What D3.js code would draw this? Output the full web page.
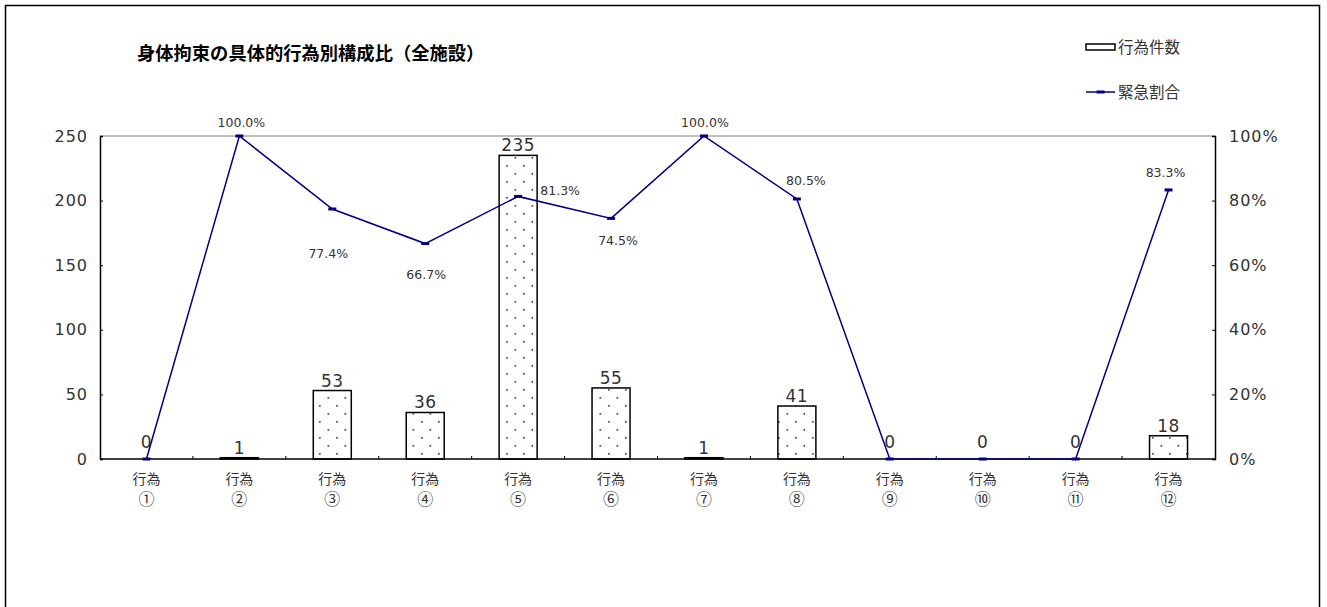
<!DOCTYPE html>
<html>
<head>
<meta charset="utf-8">
<script src="https://cdn.jsdelivr.net/npm/d3@7"></script>
<style>
  body { margin: 0; background: #fff; }
  svg { display: block; }
</style>
</head>
<body>
<div id="container"></div>
<script>
let w = 1327;
let h = 607;

// DATA
let categories = ["行為①","行為②","行為③","行為④","行為⑤","行為⑥","行為⑦","行為⑧","行為⑨","行為⑩","行為⑪","行為⑫"];
let counts = [0, 1, 53, 36, 235, 55, 1, 41, 0, 0, 0, 18];
let urgentPct = [0, 100.0, 77.4, 66.7, 81.3, 74.5, 100.0, 80.5, 0, 0, 0, 83.3];
let leftTicks = [0, 50, 100, 150, 200, 250];
let rightTicks = [0, 20, 40, 60, 80, 100];
let seriesNames = ["行為件数", "緊急割合"];
let titleText = "身体拘束の具体的行為別構成比（全施設）";

// label offsets for the % labels (dx, dy from point), null = hidden
let pctLabelOffset = [null, [2,-14], [-4,44], [1,30], [42,-6], [7,22], [1,-14], [9,-19], null, null, null, [-3,-18]];

let plotL = 100, plotR = 1215, plotT = 136, plotB = 459;
let numFont = "'DejaVu Sans', sans-serif";
let jpFont = "'Noto Sans CJK JP', sans-serif";
let navy = "#000080";

let viz = d3.select("#container").append("svg")
  .attr("width", w)
  .attr("height", h);

// outer frame
viz.append("rect")
  .attr("x", 5.5).attr("y", 5.5)
  .attr("width", 1314).attr("height", 620)
  .attr("fill", "white").attr("stroke", "black").attr("stroke-width", 1.5);

// dotted pattern for bars
let defs = viz.append("defs");
let pat = defs.append("pattern")
  .attr("id", "dots")
  .attr("patternUnits", "userSpaceOnUse")
  .attr("width", 17).attr("height", 16)
  .attr("x", 0).attr("y", 0);
pat.append("rect").attr("width", 17).attr("height", 16).attr("fill", "white");
pat.append("rect").attr("x", 13).attr("y", 5).attr("width", 1.7).attr("height", 1.7).attr("fill", "#9c2a66");
pat.append("rect").attr("x", 4.5).attr("y", 13).attr("width", 1.7).attr("height", 1.7).attr("fill", "#9c2a66");

// SCALES
let xScale = d3.scaleBand().domain(categories).range([plotL, plotR]).padding(0);
let yLeft = d3.scaleLinear().domain([0, 250]).range([plotB, plotT]);
let yRight = d3.scaleLinear().domain([0, 100]).range([plotB, plotT]);
let barW = 38;
function cx(i){ return xScale(categories[i]) + xScale.bandwidth()/2; }

// top border of plot area
viz.append("line")
  .attr("x1", plotL).attr("x2", plotR)
  .attr("y1", plotT).attr("y2", plotT)
  .attr("stroke", "#808080").attr("stroke-width", 1);

// BARS
viz.selectAll(".bar").data(counts).enter()
  .append("rect")
  .attr("class", "bar")
  .attr("x", function(d, i){ return cx(i) - barW/2; })
  .attr("y", function(d){ return yLeft(d); })
  .attr("width", barW)
  .attr("height", function(d){ return plotB - yLeft(d); })
  .attr("fill", "url(#dots)")
  .attr("stroke", "black")
  .attr("stroke-width", 1.5);

// bar value labels
viz.selectAll(".barlabel").data(counts).enter()
  .append("text")
  .attr("class", "barlabel")
  .attr("x", function(d, i){ return cx(i); })
  .attr("y", function(d){ return yLeft(d) - (d == 0 ? 11 : 4); })
  .attr("text-anchor", "middle")
  .style("font-family", numFont)
  .style("font-size", "17px")
  .style("letter-spacing", "0.5px")
  .attr("fill", "#333");

viz.selectAll(".barlabel").text(function(d){ return d; });

// AXES
let axisLeft = d3.axisLeft(yLeft).tickValues(leftTicks).tickSize(-3).tickPadding(12);
let gL = viz.append("g").attr("transform", "translate(" + plotL + ",0)").call(axisLeft);
gL.select(".domain").attr("stroke", "black").attr("stroke-width", 1.5);
gL.selectAll(".tick line").attr("stroke", "black");
gL.selectAll("text")
  .style("font-family", numFont).style("font-size", "16px").style("letter-spacing", "1px")
  .attr("fill", "#333");

let axisRight = d3.axisRight(yRight).tickValues(rightTicks).tickSize(-3).tickPadding(14)
  .tickFormat(function(d){ return d + "%"; });
let gR = viz.append("g").attr("transform", "translate(" + plotR + ",0)").call(axisRight);
gR.select(".domain").attr("stroke", "black").attr("stroke-width", 1.5);
gR.selectAll(".tick line").attr("stroke", "black");
gR.selectAll("text")
  .style("font-family", numFont).style("font-size", "16px").style("letter-spacing", "1px")
  .attr("fill", "#333");

// x axis baseline + boundary ticks
viz.append("line")
  .attr("x1", plotL).attr("x2", plotR)
  .attr("y1", plotB).attr("y2", plotB)
  .attr("stroke", "black").attr("stroke-width", 1.5);
viz.selectAll(".xtick").data(categories.slice(1)).enter()
  .append("line")
  .attr("x1", function(d){ return xScale(d); })
  .attr("x2", function(d){ return xScale(d); })
  .attr("y1", plotB).attr("y2", plotB - 3)
  .attr("stroke", "black");

// x labels (two lines)
let xl = viz.selectAll(".xlabel").data(categories).enter()
  .append("text")
  .attr("class", "xlabel")
  .attr("text-anchor", "middle")
  .style("font-family", jpFont)
  .attr("fill", "#333");
xl.append("tspan")
  .attr("x", function(d){ return xScale(d) + xScale.bandwidth()/2; })
  .attr("y", 484)
  .style("font-size", "14px")
  .text(function(d){ return d.slice(0, 2); });
xl.append("tspan")
  .attr("x", function(d){ return xScale(d) + xScale.bandwidth()/2; })
  .attr("y", 505)
  .style("font-size", "16px")
  .text(function(d){ return d.slice(2); });

// LINE
let lineMaker = d3.line()
  .x(function(d, i){ return cx(i); })
  .y(function(d){ return yRight(d); });

viz.append("path")
  .datum(urgentPct)
  .attr("d", lineMaker)
  .attr("fill", "none")
  .attr("stroke", navy)
  .attr("stroke-width", 1.5);

viz.selectAll(".marker").data(urgentPct).enter()
  .append("rect")
  .attr("class", "marker")
  .attr("x", function(d, i){ return cx(i) - 4; })
  .attr("y", function(d){ return yRight(d) - 1.5; })
  .attr("width", 8).attr("height", 3)
  .attr("fill", navy);

viz.selectAll(".pctlabel").data(urgentPct).enter()
  .append("text")
  .attr("class", "pctlabel")
  .attr("display", function(d, i){ return pctLabelOffset[i] == null ? "none" : null; })
  .attr("x", function(d, i){ return pctLabelOffset[i] == null ? 0 : cx(i) + pctLabelOffset[i][0]; })
  .attr("y", function(d, i){ return pctLabelOffset[i] == null ? 0 : yRight(d) + pctLabelOffset[i][1] + 5; })
  .attr("text-anchor", "middle")
  .style("font-family", numFont)
  .style("font-size", "12.5px")
  .attr("fill", "#333")
  .text(function(d){ return d.toFixed(1) + "%"; });

// TITLE
viz.append("text")
  .attr("x", 137).attr("y", 60)
  .style("font-family", jpFont)
  .style("font-size", "18.3px")
  .style("font-weight", "bold")
  .attr("fill", "black")
  .text(titleText);

// LEGEND
viz.append("rect")
  .attr("x", 1086).attr("y", 44)
  .attr("width", 29).attr("height", 6)
  .attr("fill", "white").attr("stroke", "black").attr("stroke-width", 1.5);
viz.append("text")
  .attr("x", 1118).attr("y", 53)
  .style("font-family", jpFont).style("font-size", "15.5px").attr("fill", "#333")
  .text(seriesNames[0]);

viz.append("line")
  .attr("x1", 1086).attr("x2", 1115)
  .attr("y1", 92).attr("y2", 92)
  .attr("stroke", navy).attr("stroke-width", 1.5);
viz.append("rect")
  .attr("x", 1096.5).attr("y", 90.5).attr("width", 8).attr("height", 3).attr("fill", navy);
viz.append("text")
  .attr("x", 1118).attr("y", 98)
  .style("font-family", jpFont).style("font-size", "15.5px").attr("fill", "#333")
  .text(seriesNames[1]);
</script>
</body>
</html>
